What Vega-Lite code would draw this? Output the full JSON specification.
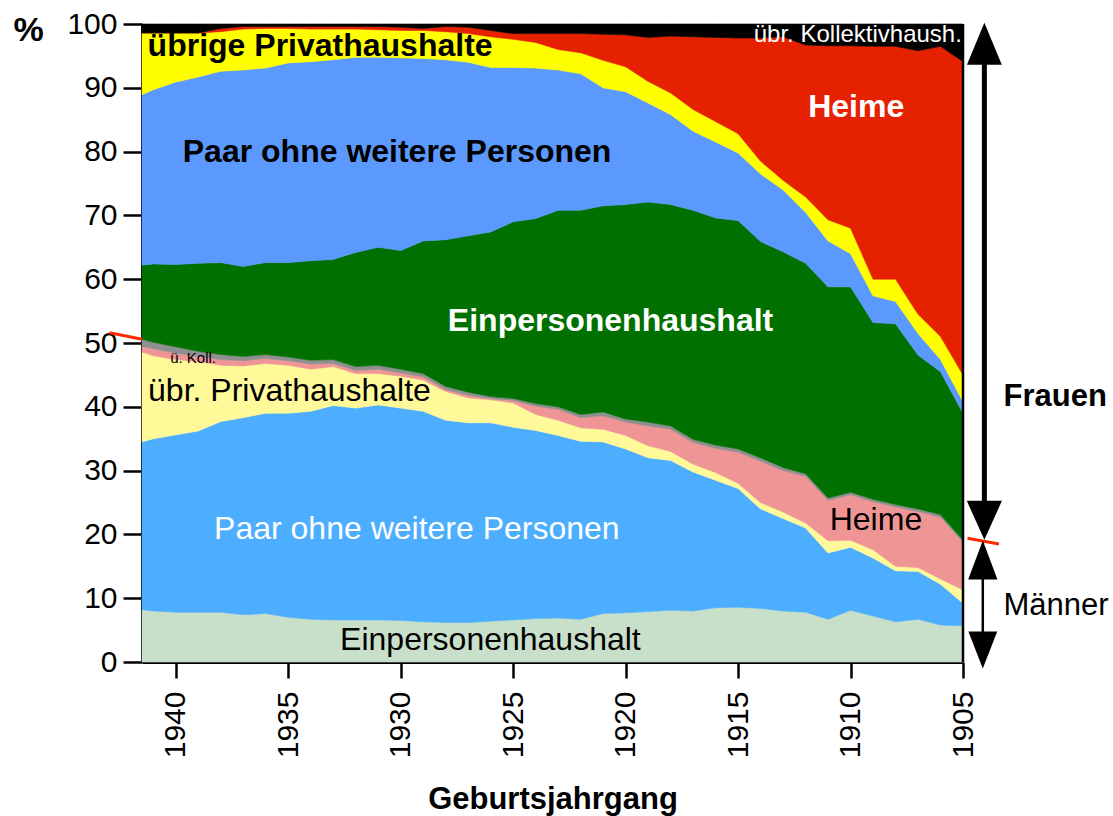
{
  "$schema": "https://vega.github.io/schema/vega-lite/v6.json",
  "width": 821,
  "height": 638,
  "autosize": {"type": "none"},
  "padding": {"left": 142, "top": 24, "right": 150, "bottom": 154},
  "background": "white",
  "config": {
    "view": {"stroke": null},
    "font": "Liberation Sans",
    "axis": {"labelFont": "Liberation Sans", "titleFont": "Liberation Sans", "labelColor": "black", "titleColor": "black", "tickColor": "black", "domainColor": "black", "grid": false}
  },
  "datasets": {
    "anteile": [
      {"jahr": 1941.5, "M1": 8.2, "M2": 26.3, "M3": 14.1, "M4": 0.9, "M5": 1.1, "W1": 11.6, "W2": 26.7, "W3": 9.7, "W4": 0.0, "W5": 1.4},
      {"jahr": 1941, "M1": 8.0, "M2": 27.0, "M3": 13.0, "M4": 1.1, "M5": 1.0, "W1": 12.3, "W2": 27.3, "W3": 8.9, "W4": 0.0, "W5": 1.4},
      {"jahr": 1940, "M1": 7.8, "M2": 27.8, "M3": 11.8, "M4": 1.0, "M5": 1.0, "W1": 12.9, "W2": 28.6, "W3": 7.7, "W4": 0.0, "W5": 1.4},
      {"jahr": 1939, "M1": 7.8, "M2": 28.4, "M3": 10.9, "M4": 0.8, "M5": 0.8, "W1": 13.8, "W2": 29.2, "W3": 6.9, "W4": 0.0, "W5": 1.4},
      {"jahr": 1938, "M1": 7.8, "M2": 29.9, "M3": 8.8, "M4": 0.9, "M5": 0.8, "W1": 14.4, "W2": 30.0, "W3": 6.2, "W4": 0.5, "W5": 0.7},
      {"jahr": 1937, "M1": 7.4, "M2": 30.9, "M3": 8.1, "M4": 0.8, "M5": 0.7, "W1": 14.1, "W2": 30.8, "W3": 6.4, "W4": 0.4, "W5": 0.4},
      {"jahr": 1936, "M1": 7.6, "M2": 31.4, "M3": 7.8, "M4": 0.8, "M5": 0.6, "W1": 14.4, "W2": 30.5, "W3": 6.2, "W4": 0.3, "W5": 0.4},
      {"jahr": 1935, "M1": 7.0, "M2": 32.0, "M3": 7.5, "M4": 0.7, "M5": 0.6, "W1": 14.8, "W2": 31.3, "W3": 5.4, "W4": 0.3, "W5": 0.4},
      {"jahr": 1934, "M1": 6.7, "M2": 32.6, "M3": 6.6, "M4": 0.8, "M5": 0.6, "W1": 15.6, "W2": 31.2, "W3": 5.1, "W4": 0.4, "W5": 0.4},
      {"jahr": 1933, "M1": 6.6, "M2": 33.6, "M3": 6.1, "M4": 0.5, "M5": 0.6, "W1": 15.7, "W2": 31.3, "W3": 4.8, "W4": 0.4, "W5": 0.4},
      {"jahr": 1932, "M1": 6.6, "M2": 33.2, "M3": 5.4, "M4": 0.5, "M5": 0.6, "W1": 17.9, "W2": 30.6, "W3": 4.4, "W4": 0.4, "W5": 0.4},
      {"jahr": 1931, "M1": 6.6, "M2": 33.7, "M3": 4.9, "M4": 0.7, "M5": 0.6, "W1": 18.5, "W2": 29.8, "W3": 4.3, "W4": 0.5, "W5": 0.4},
      {"jahr": 1930, "M1": 6.5, "M2": 33.3, "M3": 5.0, "M4": 0.5, "M5": 0.6, "W1": 18.6, "W2": 30.2, "W3": 4.3, "W4": 0.5, "W5": 0.5},
      {"jahr": 1929, "M1": 6.3, "M2": 33.0, "M3": 4.9, "M4": 0.5, "M5": 0.5, "W1": 20.8, "W2": 28.6, "W3": 4.4, "W4": 0.3, "W5": 0.7},
      {"jahr": 1928, "M1": 6.2, "M2": 31.7, "M3": 4.5, "M4": 0.3, "M5": 0.5, "W1": 23.0, "W2": 28.2, "W3": 4.4, "W4": 0.8, "W5": 0.4},
      {"jahr": 1927, "M1": 6.2, "M2": 31.3, "M3": 3.9, "M4": 0.4, "M5": 0.5, "W1": 24.5, "W2": 27.2, "W3": 4.5, "W4": 1.0, "W5": 0.5},
      {"jahr": 1926, "M1": 6.4, "M2": 31.1, "M3": 3.6, "M4": 0.2, "M5": 0.3, "W1": 25.8, "W2": 25.8, "W3": 4.8, "W4": 1.0, "W5": 1.0},
      {"jahr": 1925, "M1": 6.6, "M2": 30.2, "M3": 3.8, "M4": 0.4, "M5": 0.3, "W1": 27.7, "W2": 24.2, "W3": 4.4, "W4": 0.9, "W5": 1.5},
      {"jahr": 1924, "M1": 6.8, "M2": 29.5, "M3": 2.5, "M4": 1.3, "M5": 0.4, "W1": 29.0, "W2": 23.6, "W3": 4.0, "W4": 1.4, "W5": 1.5},
      {"jahr": 1923, "M1": 6.9, "M2": 28.6, "M3": 2.4, "M4": 1.7, "M5": 0.4, "W1": 30.8, "W2": 22.0, "W3": 3.2, "W4": 2.5, "W5": 1.5},
      {"jahr": 1922, "M1": 6.7, "M2": 27.9, "M3": 2.1, "M4": 1.6, "M5": 0.5, "W1": 32.0, "W2": 21.4, "W3": 3.3, "W4": 3.0, "W5": 1.5},
      {"jahr": 1921, "M1": 7.6, "M2": 26.9, "M3": 2.0, "M4": 2.1, "M5": 0.6, "W1": 32.3, "W2": 18.5, "W3": 4.3, "W4": 4.1, "W5": 1.6},
      {"jahr": 1920, "M1": 7.7, "M2": 25.7, "M3": 2.1, "M4": 2.1, "M5": 0.5, "W1": 33.6, "W2": 17.7, "W3": 3.9, "W4": 5.0, "W5": 1.7},
      {"jahr": 1919, "M1": 7.9, "M2": 24.1, "M3": 1.9, "M4": 3.1, "M5": 0.6, "W1": 34.5, "W2": 15.5, "W3": 3.4, "W4": 6.9, "W5": 2.1},
      {"jahr": 1918, "M1": 8.1, "M2": 23.5, "M3": 1.4, "M4": 3.5, "M5": 0.5, "W1": 34.7, "W2": 14.1, "W3": 3.4, "W4": 8.9, "W5": 1.9},
      {"jahr": 1917, "M1": 8.0, "M2": 21.8, "M3": 1.2, "M4": 3.4, "M5": 0.5, "W1": 35.9, "W2": 12.4, "W3": 3.4, "W4": 11.4, "W5": 2.0},
      {"jahr": 1916, "M1": 8.5, "M2": 20.0, "M3": 1.2, "M4": 3.8, "M5": 0.5, "W1": 35.6, "W2": 11.9, "W3": 3.2, "W4": 13.2, "W5": 2.1},
      {"jahr": 1915, "M1": 8.6, "M2": 18.6, "M3": 0.8, "M4": 4.9, "M5": 0.5, "W1": 35.8, "W2": 10.6, "W3": 3.0, "W4": 15.0, "W5": 2.2},
      {"jahr": 1914, "M1": 8.4, "M2": 15.6, "M3": 1.0, "M4": 6.5, "M5": 0.5, "W1": 33.9, "W2": 10.6, "W3": 2.0, "W4": 19.3, "W5": 2.2},
      {"jahr": 1913, "M1": 8.0, "M2": 14.5, "M3": 1.0, "M4": 6.5, "M5": 0.5, "W1": 33.8, "W2": 9.7, "W3": 1.5, "W4": 22.5, "W5": 2.0},
      {"jahr": 1912, "M1": 7.8, "M2": 13.2, "M3": 0.8, "M4": 7.3, "M5": 0.4, "W1": 33.0, "W2": 8.0, "W3": 2.4, "W4": 23.8, "W5": 3.3},
      {"jahr": 1911, "M1": 6.7, "M2": 10.4, "M3": 1.9, "M4": 6.3, "M5": 0.4, "W1": 33.1, "W2": 7.2, "W3": 3.3, "W4": 27.3, "W5": 3.4},
      {"jahr": 1910, "M1": 8.1, "M2": 9.9, "M3": 1.1, "M4": 7.1, "M5": 0.4, "W1": 32.2, "W2": 5.2, "W3": 4.0, "W4": 28.6, "W5": 3.4},
      {"jahr": 1909, "M1": 7.2, "M2": 9.1, "M3": 1.3, "M4": 7.5, "M5": 0.4, "W1": 27.7, "W2": 4.2, "W3": 2.6, "W4": 36.5, "W5": 3.5},
      {"jahr": 1908, "M1": 6.3, "M2": 8.0, "M3": 0.7, "M4": 9.3, "M5": 0.4, "W1": 28.3, "W2": 3.5, "W3": 3.5, "W4": 36.5, "W5": 3.5},
      {"jahr": 1907, "M1": 6.7, "M2": 7.5, "M3": 0.6, "M4": 8.8, "M5": 0.4, "W1": 24.1, "W2": 3.4, "W3": 3.0, "W4": 41.3, "W5": 4.2},
      {"jahr": 1906, "M1": 5.8, "M2": 6.4, "M3": 0.8, "M4": 9.7, "M5": 0.4, "W1": 22.4, "W2": 1.9, "W3": 3.6, "W4": 45.5, "W5": 3.5},
      {"jahr": 1905, "M1": 5.7, "M2": 3.5, "M3": 2.1, "M4": 7.5, "M5": 0.3, "W1": 19.9, "W2": 1.8, "W3": 4.2, "W4": 49.1, "W5": 5.9}
    ]
  },
  "encoding": {
    "x": {"field": "jahr", "type": "quantitative", "scale": {"domain": [1941.5, 1905], "nice": false, "zero": false},
      "axis": {"values": [1940, 1935, 1930, 1925, 1920, 1915, 1910, 1905], "format": "d", "labelFontSize": 30, "labelAngle": 270, "labelAlign": "right", "labelBaseline": "middle", "labelPadding": 13, "tickSize": 16, "tickWidth": 2.5, "domainWidth": 3,
        "title": "Geburtsjahrgang", "titleFontSize": 31, "titleFontWeight": "bold", "titleBaseline": "alphabetic", "titleY": 146}},
    "y": {"field": "wert", "type": "quantitative", "scale": {"domain": [0, 100], "nice": false},
      "axis": {"values": [0, 10, 20, 30, 40, 50, 60, 70, 80, 90, 100], "labelFontSize": 30, "labelPadding": 6, "tickSize": 19, "tickWidth": 2.5, "domainWidth": 3,
        "title": "%", "titleFontSize": 34, "titleFontWeight": "bold", "titleAngle": 0, "titleAlign": "left", "titleBaseline": "middle", "titleX": -129, "titleY": 6}}
  },
  "layer": [
    {
      "data": {"name": "anteile"},
      "transform": [{"fold": ["M1", "M2", "M3", "M4", "M5", "W1", "W2", "W3", "W4", "W5"], "as": ["k", "wert"]}],
      "mark": {"type": "area", "interpolate": "linear", "strokeWidth": 0.6},
      "encoding": {
        "y": {"field": "wert", "type": "quantitative", "stack": "zero"},
        "color": {"field": "k", "type": "nominal", "legend": null,
          "scale": {"domain": ["M1", "M2", "M3", "M4", "M5", "W1", "W2", "W3", "W4", "W5"], "range": ["#C8DFC9", "#4DAEFF", "#FFF99A", "#F09595", "#8F8F8F", "#007000", "#5B99FF", "#FFFF00", "#E62100", "#000000"]}},
        "stroke": {"field": "k", "type": "nominal", "legend": null,
          "scale": {"domain": ["M1", "M2", "M3", "M4", "M5", "W1", "W2", "W3", "W4", "W5"], "range": ["#C8DFC9", "#4DAEFF", "#FFF99A", "#F09595", "#8F8F8F", "#007000", "#5B99FF", "#FFFF00", "#E62100", "#000000"]}},
        "order": {"field": "k", "type": "ordinal", "sort": "ascending"}
      }
    },
    {
      "data": {"values": [{"jahr": 1905, "jahr2": 1905, "wert": 0, "wert2": 100}]},
      "mark": {"type": "rule", "color": "black", "strokeWidth": 2.5},
      "encoding": {"x2": {"field": "jahr2"}, "y2": {"field": "wert2"}}
    },
    {
      "data": {"values": [{"jahr": 1942.94, "jahr2": 1941.5, "wert": 51.6, "wert2": 50.6}, {"jahr": 1904.8, "jahr2": 1903.4, "wert": 19.4, "wert2": 18.5}]},
      "mark": {"type": "rule", "color": "#FF2A00", "strokeWidth": 3},
      "encoding": {"x2": {"field": "jahr2"}, "y2": {"field": "wert2"}}
    },
    {
      "data": {"values": [{"jahr": 1904.05, "jahr2": 1904.05, "wert": 94.5, "wert2": 24.5}]},
      "mark": {"type": "rule", "color": "black", "strokeWidth": 5},
      "encoding": {"x2": {"field": "jahr2"}, "y2": {"field": "wert2"}}
    },
    {
      "data": {"values": [{"jahr": 1904.12, "jahr2": 1904.12, "wert": 13.0, "wert2": 4.6}]},
      "mark": {"type": "rule", "color": "black", "strokeWidth": 2.5},
      "encoding": {"x2": {"field": "jahr2"}, "y2": {"field": "wert2"}}
    },
    {
      "data": {"values": [{"jahr": 1904.05, "wert": 96.9}]},
      "mark": {"type": "point", "filled": true, "color": "black", "opacity": 1, "size": 1764, "shape": "M0,-1L-0.83,1L0.83,1Z"}
    },
    {
      "data": {"values": [{"jahr": 1904.05, "wert": 22.2}]},
      "mark": {"type": "point", "filled": true, "color": "black", "opacity": 1, "size": 1521, "shape": "M0,1L-0.9,-1L0.9,-1Z"}
    },
    {
      "data": {"values": [{"jahr": 1904.12, "wert": 16.0}]},
      "mark": {"type": "point", "filled": true, "color": "black", "opacity": 1, "size": 1521, "shape": "M0,-1L-0.75,1L0.75,1Z"}
    },
    {
      "data": {"values": [{"jahr": 1904.12, "wert": 1.9}]},
      "mark": {"type": "point", "filled": true, "color": "black", "opacity": 1, "size": 1369, "shape": "M0,1L-0.78,-1L0.78,-1Z"}
    },
    {
      "data": {"values": [{"jahr": 1930.16, "wert": 79.9, "text": "Paar ohne weitere Personen"}]},
      "mark": {"type": "text", "font": "Liberation Sans", "fontSize": 32, "fontWeight": "bold", "color": "black", "align": "center", "baseline": "middle"},
      "encoding": {"text": {"field": "text"}}
    },
    {
      "data": {"values": [{"jahr": 1941.25, "wert": 96.6, "text": "übrige Privathaushalte"}]},
      "mark": {"type": "text", "font": "Liberation Sans", "fontSize": 32, "fontWeight": "bold", "color": "black", "align": "left", "baseline": "middle"},
      "encoding": {"text": {"field": "text"}}
    },
    {
      "data": {"values": [{"jahr": 1909.75, "wert": 87.0, "text": "Heime"}, {"jahr": 1920.67, "wert": 53.5, "text": "Einpersonenhaushalt"}]},
      "mark": {"type": "text", "font": "Liberation Sans", "fontSize": 32, "fontWeight": "bold", "color": "white", "align": "center", "baseline": "middle"},
      "encoding": {"text": {"field": "text"}}
    },
    {
      "data": {"values": [{"jahr": 1905.05, "wert": 98.3, "text": "übr. Kollektivhaush."}]},
      "mark": {"type": "text", "font": "Liberation Sans", "fontSize": 24, "color": "white", "align": "right", "baseline": "middle"},
      "encoding": {"text": {"field": "text"}}
    },
    {
      "data": {"values": [{"jahr": 1939.23, "wert": 47.6, "text": "ü. Koll."}]},
      "mark": {"type": "text", "font": "Liberation Sans", "fontSize": 15, "color": "black", "align": "center", "baseline": "middle"},
      "encoding": {"text": {"field": "text"}}
    },
    {
      "data": {"values": [{"jahr": 1941.23, "wert": 42.5, "text": "übr. Privathaushalte"}]},
      "mark": {"type": "text", "font": "Liberation Sans", "fontSize": 32, "color": "black", "align": "left", "baseline": "middle"},
      "encoding": {"text": {"field": "text"}}
    },
    {
      "data": {"values": [{"jahr": 1908.87, "wert": 22.2, "text": "Heime"}, {"jahr": 1926.01, "wert": 3.4, "text": "Einpersonenhaushalt"}]},
      "mark": {"type": "text", "font": "Liberation Sans", "fontSize": 32, "color": "black", "align": "center", "baseline": "middle"},
      "encoding": {"text": {"field": "text"}}
    },
    {
      "data": {"values": [{"jahr": 1929.28, "wert": 20.9, "text": "Paar ohne weitere Personen"}]},
      "mark": {"type": "text", "font": "Liberation Sans", "fontSize": 32, "color": "white", "align": "center", "baseline": "middle"},
      "encoding": {"text": {"field": "text"}}
    },
    {
      "data": {"values": [{"jahr": 1903.2, "wert": 41.5, "text": "Frauen"}]},
      "mark": {"type": "text", "font": "Liberation Sans", "fontSize": 31, "fontWeight": "bold", "color": "black", "align": "left", "baseline": "middle"},
      "encoding": {"text": {"field": "text"}}
    },
    {
      "data": {"values": [{"jahr": 1903.2, "wert": 8.8, "text": "Männer"}]},
      "mark": {"type": "text", "font": "Liberation Sans", "fontSize": 31, "color": "black", "align": "left", "baseline": "middle"},
      "encoding": {"text": {"field": "text"}}
    }
  ]
}
